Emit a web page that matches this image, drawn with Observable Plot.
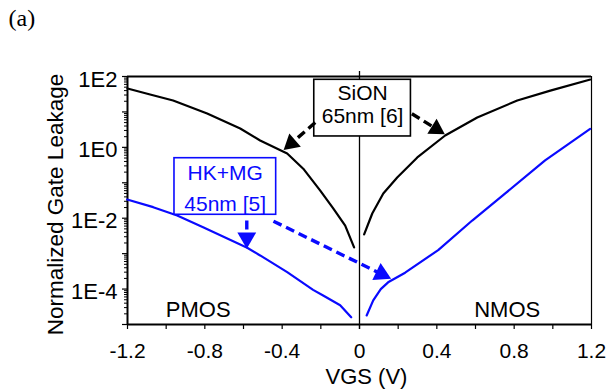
<!DOCTYPE html>
<html>
<head>
<meta charset="utf-8">
<script src="https://cdn.jsdelivr.net/npm/d3@7"></script>
<script src="https://cdn.jsdelivr.net/npm/@observablehq/plot@0.6"></script>
<style>
  html, body { margin: 0; padding: 0; background: #fff; }
  #chart svg { display: block; }
</style>
</head>
<body>
<div id="chart"></div>
<script>
// ---- Data ----
const sionPmosX = [-1.2, -1.083, -0.964, -0.788, -0.617, -0.514, -0.374, -0.291, -0.203, -0.136, -0.074, -0.028];
const sionPmosY = [45.8, 31, 21, 9.0, 3.4, 1.56, 0.67, 0.25, 0.06, 0.019, 0.0062, 0.0015];

const sionNmosX = [0.024, 0.066, 0.123, 0.195, 0.299, 0.443, 0.609, 0.816, 0.987, 1.194];
const sionNmosY = [0.0035, 0.0136, 0.050, 0.141, 0.52, 2.16, 7.0, 21, 40, 82];

const hkPmosX = [-1.202, -1.067, -0.943, -0.809, -0.581, -0.514, -0.374, -0.240, -0.188, -0.100, -0.043];
const hkPmosY = [0.0337, 0.0205, 0.0119, 0.0056, 0.00146, 0.00089, 0.0003, 9.5e-5, 6.6e-5, 3.5e-5, 1.6e-5];

const hkNmosX = [0.037, 0.071, 0.110, 0.148, 0.236, 0.407, 0.583, 0.754, 0.96, 1.193];
const hkNmosY = [1.8e-5, 4.8e-5, 1.0e-4, 1.55e-4, 2.9e-4, 1.26e-3, 8.6e-3, 0.05, 0.43, 3.34];

// axis ticks
const xTicks = [-1.2, -1.0, -0.8, -0.6, -0.4, -0.2, 0, 0.2, 0.4, 0.6, 0.8, 1.0, 1.2];
const xLabelTicks = [-1.2, -0.8, -0.4, 0, 0.4, 0.8, 1.2];
const xLabelText = ["-1.2", "-0.8", "-0.4", "0", "0.4", "0.8", "1.2"];
const yDecades = [1e-5, 1e-4, 1e-3, 1e-2, 1e-1, 1e0, 1e1, 1e2];
const yMultipliers = [2, 3, 4, 5, 6, 7, 8, 9];
const yLabelTicks = [1e-4, 1e-2, 1e0, 1e2];
const yLabelText = ["1E-4", "1E-2", "1E0", "1E2"];

// annotation boxes
const boxX1 = [-0.234, -0.957];
const boxX2 = [0.266, -0.431];
const boxY1 = [2.03, 0.0125];
const boxY2 = [80.7, 0.494];
const boxColor = ["black", "#0a0aff"];

const noteText = ["SiON", "65nm [6]", "HK+MG", "45nm [5]"];
const noteX = [0.016, 0.016, -0.695, -0.695];
const noteY = [33.5, 7.6, 0.185, 0.0255];
const noteColor = ["black", "black", "#0a0aff", "#0a0aff"];

// arrows
const arrowTailX = [-0.229, 0.271, -0.583, -0.445];
const arrowTailY = [5.03, 8.85, 0.00863, 0.00824];
const arrowHeadX = [-0.353, 0.397, -0.583, 0.113];
const arrowHeadY = [1.29, 3.32, 0.00279, 2.67e-4];
const arrowAngle = [229, 122, 180, 116];
const arrowColor = ["black", "black", "#0a0aff", "#0a0aff"];
const arrowR = [6.5, 6.5, 7, 7];

const regionText = ["PMOS", "NMOS"];
const regionX = [-0.834, 0.764];
const regionY = [2.5e-5, 2.5e-5];

// ---- build ----
const yMinor = [];
for (const d of yDecades.slice(0, -1)) for (const m of yMultipliers) yMinor.push(d * m);
const xLabelMap = new Map(xLabelTicks.map((v, i) => [v, xLabelText[i]]));
const yLabelMap = new Map(yLabelTicks.map((v, i) => [v, yLabelText[i]]));
const idx = (a) => a.map((_, i) => i);

const blue = "#0a0aff";
const sans = "'Liberation Sans', Arial, sans-serif";

const chart = Plot.plot({
  width: 611,
  height: 391,
  marginLeft: 127,
  marginRight: 20,
  marginTop: 76,
  marginBottom: 67,
  style: { background: "white", fontFamily: sans, color: "black" },
  x: { domain: [-1.2, 1.2] },
  y: { type: "log", domain: [1e-5, 1e2] },
  r: { type: "identity" },
  marks: [
    // zero line
    Plot.ruleX([0], { stroke: "black", strokeWidth: 1.3, insetTop: -5, insetBottom: -5 }),
    // axes ticks
    Plot.axisX(xTicks, { tickSize: 5, tickFormat: () => "", label: null, strokeWidth: 1.2 }),
    Plot.axisX(xLabelTicks, { tickSize: 0, tickPadding: 19, fontSize: 21, fontFamily: sans, tickFormat: (d) => xLabelMap.get(d), label: null }),
    Plot.axisY(yMinor, { tickSize: 3, tickFormat: () => "", label: null, strokeWidth: 1 }),
    Plot.axisY(yDecades, { tickSize: 5, tickFormat: () => "", label: null, strokeWidth: 1.2 }),
    Plot.axisY(yLabelTicks, { tickSize: 0, tickPadding: 10, dy: 3, fontSize: 22, fontFamily: sans, tickFormat: (d) => yLabelMap.get(d), label: null }),
    // frame
    Plot.ruleY([1e2], { stroke: "black", strokeWidth: 2 }),
    Plot.ruleY([1e-5], { stroke: "black", strokeWidth: 2 }),
    Plot.ruleX([-1.2], { stroke: "black", strokeWidth: 2 }),
    Plot.ruleX([1.2], { stroke: "black", strokeWidth: 1.2 }),
    // curves
    Plot.line(idx(sionPmosX), { x: sionPmosX, y: sionPmosY, stroke: "black", strokeWidth: 2.2 }),
    Plot.line(idx(sionNmosX), { x: sionNmosX, y: sionNmosY, stroke: "black", strokeWidth: 2.2 }),
    Plot.line(idx(hkPmosX), { x: hkPmosX, y: hkPmosY, stroke: blue, strokeWidth: 2.2 }),
    Plot.line(idx(hkNmosX), { x: hkNmosX, y: hkNmosY, stroke: blue, strokeWidth: 2.2 }),
    // annotation boxes
    Plot.rect(idx(boxX1), { x1: boxX1, x2: boxX2, y1: boxY1, y2: boxY2, fill: "white", stroke: boxColor, strokeWidth: 1.6 }),
    Plot.text(noteText, { x: noteX, y: noteY, text: (d) => d, fill: noteColor, fontSize: 21, fontFamily: sans, textAnchor: "middle", lineAnchor: "middle" }),
    // arrows
    Plot.link(idx(arrowTailX), { x1: arrowTailX, y1: arrowTailY, x2: arrowHeadX, y2: arrowHeadY, stroke: arrowColor, strokeWidth: 3.4, strokeDasharray: "9,5" }),
    Plot.dot(idx(arrowHeadX), { x: arrowHeadX, y: arrowHeadY, symbol: "triangle", r: arrowR, fill: arrowColor, stroke: "none", rotate: arrowAngle }),
    // region labels
    Plot.text(regionText, { x: regionX, y: regionY, text: (d) => d, fill: "black", fontSize: 22, fontFamily: sans, textAnchor: "middle", lineAnchor: "middle" }),
    // axis titles
    Plot.text(["Normalized Gate Leakage"], { frameAnchor: "left", dx: -72, dy: 4, rotate: -90, text: (d) => d, fontSize: 22.5, fontFamily: sans, fill: "black", textAnchor: "middle", lineAnchor: "middle" }),
    Plot.text(["VGS (V)"], { frameAnchor: "bottom", dx: 7, dy: 52, text: (d) => d, fontSize: 22, fontFamily: sans, fill: "black", textAnchor: "middle", lineAnchor: "middle" }),
    // panel label
    Plot.text(["(a)"], { frameAnchor: "top-left", dx: -119, dy: -58, text: (d) => d, fontSize: 24, fill: "black", textAnchor: "start", lineAnchor: "middle", fontFamily: "'Liberation Serif', 'Times New Roman', serif" })
  ]
});
document.getElementById("chart").append(chart);
</script>
</body>
</html>
